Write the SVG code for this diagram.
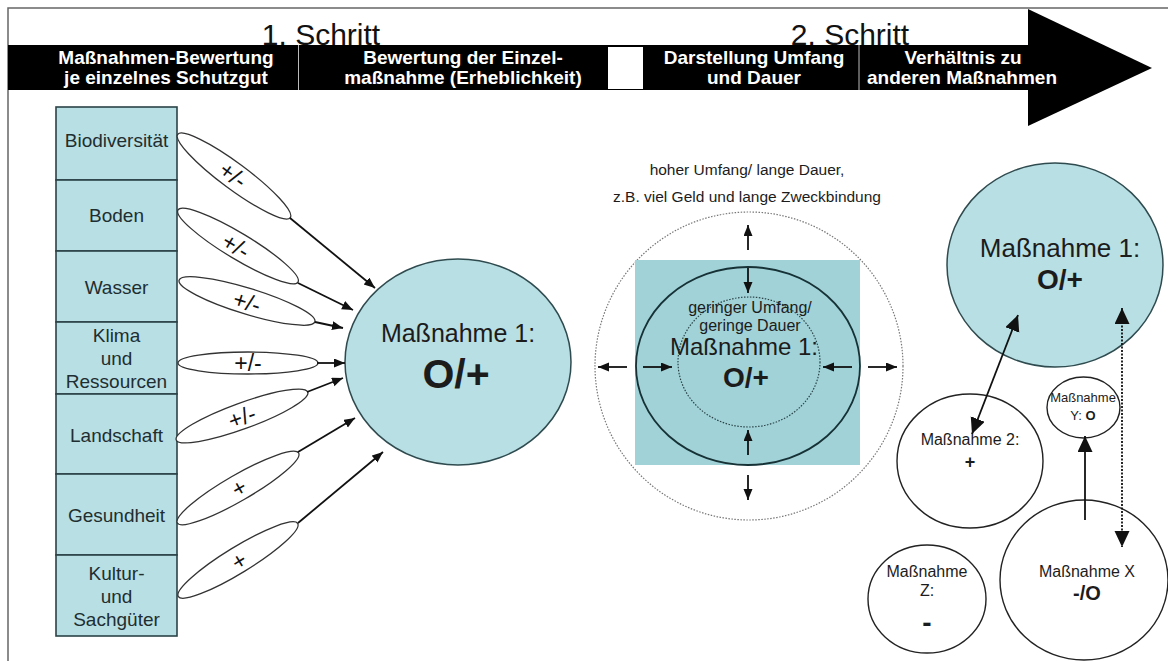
<svg xmlns="http://www.w3.org/2000/svg" width="1168" height="661" viewBox="0 0 1168 661">
<style>
text{font-family:"Liberation Sans",Arial,sans-serif;fill:#1c1c1c}
.hd{font-size:19px;font-weight:bold;fill:#fff;text-anchor:middle}
.step{font-size:30px;text-anchor:middle;fill:#111}
.box{fill:#b8dfe3;stroke:#2b4347;stroke-width:1.6}
.bt{font-size:19px;text-anchor:middle;fill:#1e2e31}
.oval{fill:#fff;stroke:#333;stroke-width:1.3}
.lbl{font-size:23px;text-anchor:middle;fill:#111}
.con{stroke:#111;stroke-width:1.8;fill:none}
.teal{fill:#b8dfe3;stroke:#2f4b4f;stroke-width:1.5}
.c{text-anchor:middle}
.wc{fill:#fff;stroke:#222;stroke-width:1.4}
</style>
<defs>
<marker id="a" markerUnits="userSpaceOnUse" markerWidth="12" markerHeight="10" refX="11" refY="4.5" orient="auto-start-reverse"><path d="M0,0 L11,4.5 L0,9 z" fill="#111"/></marker>
<marker id="b" markerUnits="userSpaceOnUse" markerWidth="18" markerHeight="16" refX="16" refY="7.5" orient="auto-start-reverse"><path d="M0,0 L16,7.5 L0,15 z" fill="#111"/></marker>
</defs>
<rect x="8" y="8" width="1200" height="700" fill="#fff" stroke="#666" stroke-width="1.5"/>
<g id="header">
<rect x="8" y="45" width="1025" height="45" fill="#000"/>
<polygon points="1028,9 1152,68 1028,126" fill="#000"/>
<line x1="298.5" y1="45" x2="298.5" y2="90" stroke="#bbb" stroke-width="1"/>
<line x1="859" y1="45" x2="859" y2="90" stroke="#bbb" stroke-width="1"/>
<rect x="608" y="47" width="35" height="42" fill="#fff"/>
<text class="step" x="321" y="45">1. Schritt</text>
<text class="step" x="850" y="45">2. Schritt</text>
<text class="hd" x="166" y="64">Maßnahmen-Bewertung</text>
<text class="hd" x="166" y="84">je einzelnes Schutzgut</text>
<text class="hd" x="463" y="64">Bewertung der Einzel-</text>
<text class="hd" x="463" y="84">maßnahme (Erheblichkeit)</text>
<text class="hd" x="754" y="64">Darstellung Umfang</text>
<text class="hd" x="754" y="84">und Dauer</text>
<text class="hd" x="963" y="64">Verhältnis zu</text>
<text class="hd" x="962" y="84">anderen Maßnahmen</text>
</g>
<g id="schutzgueter">
<g id="biodiversitaet"><rect class="box" x="56" y="107" width="121" height="73"/><text class="bt" x="116.5" y="147">Biodiversität</text></g>
<g id="boden"><rect class="box" x="56" y="180" width="121" height="71"/><text class="bt" x="116.5" y="222">Boden</text></g>
<g id="wasser"><rect class="box" x="56" y="251" width="121" height="71"/><text class="bt" x="116.5" y="294">Wasser</text></g>
<g id="klima"><rect class="box" x="56" y="322" width="121" height="72"/><text class="bt" x="116.5" y="342">Klima</text><text class="bt" x="116.5" y="365">und</text><text class="bt" x="116.5" y="388">Ressourcen</text></g>
<g id="landschaft"><rect class="box" x="56" y="394" width="121" height="80"/><text class="bt" x="116.5" y="442">Landschaft</text></g>
<g id="gesundheit"><rect class="box" x="56" y="474" width="121" height="81"/><text class="bt" x="116.5" y="522">Gesundheit</text></g>
<g id="kultur"><rect class="box" x="56" y="555" width="121" height="81"/><text class="bt" x="116.5" y="580">Kultur-</text><text class="bt" x="116.5" y="603">und</text><text class="bt" x="116.5" y="626">Sachgüter</text></g>
</g>
<g id="bewertungen">
<g id="e1"><ellipse class="oval" cx="234" cy="176" rx="70" ry="13" transform="rotate(36.5 234 176)"/><text class="lbl" transform="translate(233,175) rotate(36.5)" y="8">+/-</text></g>
<g id="e2"><ellipse class="oval" cx="238" cy="246" rx="70" ry="13" transform="rotate(31 238 246)"/><text class="lbl" transform="translate(236,246) rotate(31)" y="8">+/-</text></g>
<g id="e3"><ellipse class="oval" cx="247" cy="301" rx="71" ry="13" transform="rotate(17 247 301)"/><text class="lbl" transform="translate(247,302) rotate(17)" y="8">+/-</text></g>
<g id="e4"><ellipse class="oval" cx="248" cy="363" rx="70" ry="11"/><text class="lbl" x="248" y="371">+/-</text></g>
<g id="e5"><ellipse class="oval" cx="242" cy="416" rx="70" ry="13" transform="rotate(-20 242 416)"/><text class="lbl" transform="translate(242,417) rotate(-20)" y="8">+/-</text></g>
<g id="e6"><ellipse class="oval" cx="238" cy="488" rx="70" ry="13" transform="rotate(-30 238 488)"/><text class="lbl" transform="translate(239,488) rotate(-30)" y="8">+</text></g>
<g id="e7"><ellipse class="oval" cx="238" cy="560" rx="70" ry="13" transform="rotate(-31.5 238 560)"/><text class="lbl" transform="translate(239,561) rotate(-31.5)" y="8">+</text></g>
</g>
<g id="massnahme1-links">
<ellipse class="teal" cx="458" cy="362" rx="113" ry="103"/>
<text class="c" x="458" y="342" font-size="25">Maßnahme 1:</text>
<text class="c" x="456" y="388" font-size="41" font-weight="bold">O/+</text>
</g>
<g id="umfang">
<text class="c" x="747" y="175" font-size="15.5">hoher Umfang/ lange Dauer,</text>
<text class="c" x="747" y="202" font-size="15.5">z.B. viel Geld und lange Zweckbindung</text>
<circle cx="749" cy="366" r="154" fill="none" stroke="#777" stroke-width="1.2" stroke-dasharray="1.5 1.5"/>
<rect x="635" y="260" width="225" height="205" fill="#a1d2d7"/>
<ellipse cx="748" cy="366" rx="112" ry="99" fill="none" stroke="#163236" stroke-width="1.8"/>
<ellipse cx="749" cy="362" rx="71" ry="65" fill="none" stroke="#2a4448" stroke-width="1.2" stroke-dasharray="1.5 1.5"/>
<text class="c" x="750" y="313" font-size="16" fill="#263a3d">geringer Umfang/</text>
<text class="c" x="750" y="331" font-size="16" fill="#263a3d">geringe Dauer</text>
<text class="c" x="744" y="355" font-size="24">Maßnahme 1:</text>
<text class="c" x="746" y="387" font-size="28" font-weight="bold">O/+</text>
</g>
<g id="massnahme1-rechts">
<ellipse class="teal" cx="1055" cy="265" rx="108" ry="102"/>
<text class="c" x="1060" y="257" font-size="26">Maßnahme 1:</text>
<text class="c" x="1060" y="289" font-size="28" font-weight="bold">O/+</text>
</g>
<g id="massnahme-y">
<ellipse class="wc" cx="1083.5" cy="407.5" rx="36.5" ry="30.5"/>
<text class="c" x="1083" y="402" font-size="13">Maßnahme</text>
<text class="c" x="1083" y="420" font-size="13">Y: <tspan font-weight="bold">O</tspan></text>
</g>
<g id="massnahme-2">
<ellipse class="wc" cx="970" cy="461" rx="73" ry="67"/>
<text class="c" x="970" y="445" font-size="16">Maßnahme 2:</text>
<text class="c" x="970" y="468" font-size="18" font-weight="bold">+</text>
</g>
<g id="massnahme-x">
<ellipse class="wc" cx="1084" cy="580" rx="84" ry="80"/>
<text class="c" x="1087" y="577" font-size="16">Maßnahme X</text>
<text class="c" x="1087" y="600" font-size="20" font-weight="bold">-/O</text>
</g>
<g id="massnahme-z">
<ellipse class="wc" cx="927" cy="599" rx="59" ry="54"/>
<text class="c" x="927" y="577" font-size="16">Maßnahme</text>
<text class="c" x="927" y="596" font-size="16">Z:</text>
<text class="c" x="927" y="632" font-size="28" font-weight="bold">-</text>
</g>
<g id="connectors">
<line class="con" x1="290" y1="218" x2="375" y2="288" marker-end="url(#a)"/>
<line class="con" x1="298" y1="283" x2="353" y2="310" marker-end="url(#a)"/>
<line class="con" x1="315" y1="322" x2="343" y2="328" marker-end="url(#a)"/>
<line class="con" x1="317" y1="363" x2="345" y2="363" marker-end="url(#a)"/>
<line class="con" x1="307" y1="392" x2="343" y2="378" marker-end="url(#a)"/>
<line class="con" x1="298" y1="452" x2="355" y2="418" marker-end="url(#a)"/>
<line class="con" x1="298" y1="523" x2="383" y2="452" marker-end="url(#a)"/>
<line class="con" x1="748" y1="250" x2="748" y2="225" marker-end="url(#a)"/>
<line class="con" x1="748" y1="268" x2="748" y2="293" marker-end="url(#a)"/>
<line class="con" x1="748" y1="455" x2="748" y2="430" marker-end="url(#a)"/>
<line class="con" x1="748" y1="475" x2="748" y2="500" marker-end="url(#a)"/>
<line class="con" x1="627" y1="367" x2="598" y2="367" marker-end="url(#a)"/>
<line class="con" x1="643" y1="367" x2="672" y2="367" marker-end="url(#a)"/>
<line class="con" x1="852" y1="367" x2="823" y2="367" marker-end="url(#a)"/>
<line class="con" x1="868" y1="367" x2="897" y2="367" marker-end="url(#a)"/>
<line class="con" x1="1018" y1="315" x2="972" y2="434" marker-start="url(#b)" marker-end="url(#b)"/>
<line class="con" x1="1122" y1="308" x2="1122" y2="547" stroke-dasharray="2 1.5" marker-start="url(#b)" marker-end="url(#b)"/>
<line class="con" x1="1085" y1="520" x2="1085" y2="436" marker-end="url(#b)"/>
</g>
</svg>
